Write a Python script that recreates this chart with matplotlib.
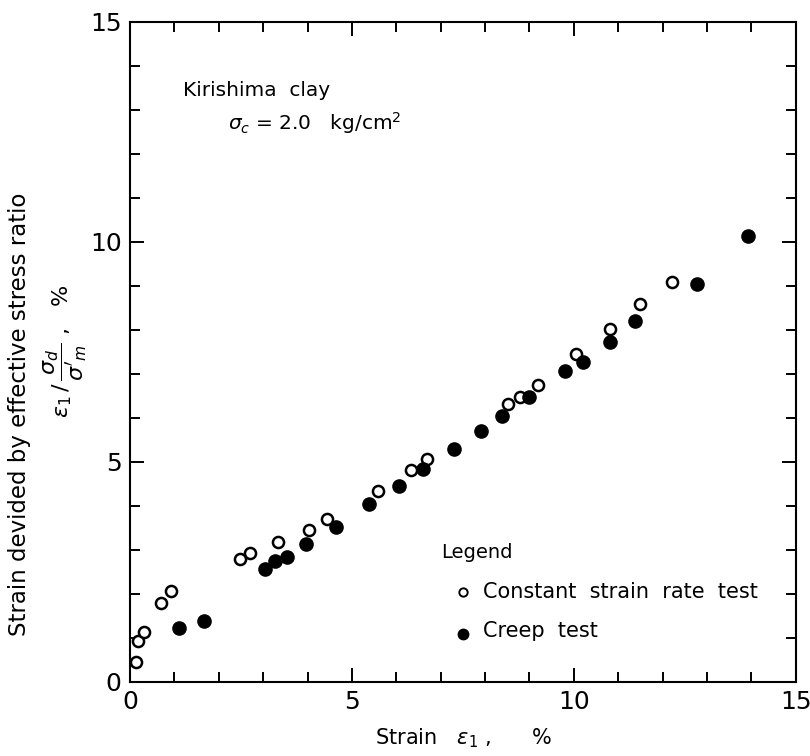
import matplotlib.pyplot as plt
from matplotlib.ticker import MultipleLocator

# Constant strain rate test (open circles)
csr_strain = [0.13, 0.19, 0.32, 0.70, 0.92, 2.47, 2.70, 3.34, 4.03, 4.44,
              5.58, 6.33, 6.70, 8.52, 8.79, 9.20, 10.05, 10.81, 11.50, 12.20]
csr_ratio = [0.45, 0.92, 1.13, 1.80, 2.07, 2.79, 2.92, 3.19, 3.45, 3.70,
             4.33, 4.82, 5.07, 6.32, 6.48, 6.75, 7.45, 8.02, 8.58, 9.09]

# Creep test (filled circles)
creep_strain = [1.11, 1.67, 3.04, 3.27, 3.53, 3.96, 4.65, 5.38, 6.05, 6.61,
                7.30, 7.90, 8.37, 8.99, 9.80, 10.21, 10.81, 11.38, 12.77, 13.93]
creep_ratio = [1.23, 1.38, 2.57, 2.74, 2.84, 3.13, 3.52, 4.05, 4.46, 4.84,
               5.29, 5.71, 6.05, 6.47, 7.06, 7.27, 7.73, 8.20, 9.05, 10.13]

fig = plt.figure(figsize=(8.1, 7.56), dpi=100)
ax = fig.add_axes([0.1605, 0.098, 0.822, 0.873])

ax.plot(csr_strain, csr_ratio, 'o', ls='none', ms=8, mfc='white',
        mec='black', mew=1.8)
ax.plot(creep_strain, creep_ratio, 'o', ls='none', ms=9.5, color='black')

ax.set_xlim(0, 15)
ax.set_ylim(0, 15)
ax.xaxis.set_major_locator(MultipleLocator(5))
ax.yaxis.set_major_locator(MultipleLocator(5))
ax.xaxis.set_minor_locator(MultipleLocator(1))
ax.yaxis.set_minor_locator(MultipleLocator(1))
ax.tick_params(which='both', direction='in', top=True, right=True,
               width=1.4, labelsize=18, pad=6)
ax.tick_params(which='major', length=10)
ax.tick_params(which='minor', length=7)
for s in ax.spines.values():
    s.set_linewidth(1.5)

ax.set_xlabel(r'Strain   $\epsilon_1$ ,      %', fontsize=15, labelpad=9)

# y labels (two lines)
fig.text(0.024, 0.452, 'Strain devided by effective stress ratio',
         rotation=90, fontsize=16.5, ha='center', va='center')
fig.text(0.08, 0.535, r"$\epsilon_1\,/\,\dfrac{\sigma_d}{\sigma'_m}$ ,   %",
         rotation=90, fontsize=16, ha='center', va='center')

# annotation
ax.text(1.2, 13.45, 'Kirishima  clay', fontsize=14.5, va='center')
ax.text(2.2, 12.7, r'$\sigma_c$ = 2.0   kg/cm$^2$', fontsize=14.5, va='center')

# legend
ax.text(7.0, 2.95, 'Legend', fontsize=14, va='center')
ax.plot([7.5], [2.05], 'o', ms=6, mfc='white', mec='black', mew=1.4)
ax.text(7.95, 2.05, 'Constant  strain  rate  test', fontsize=15, va='center')
ax.plot([7.5], [1.1], 'o', ms=7.5, color='black')
ax.text(7.95, 1.15, 'Creep  test', fontsize=15, va='center')

plt.savefig('out.png', dpi=100)
